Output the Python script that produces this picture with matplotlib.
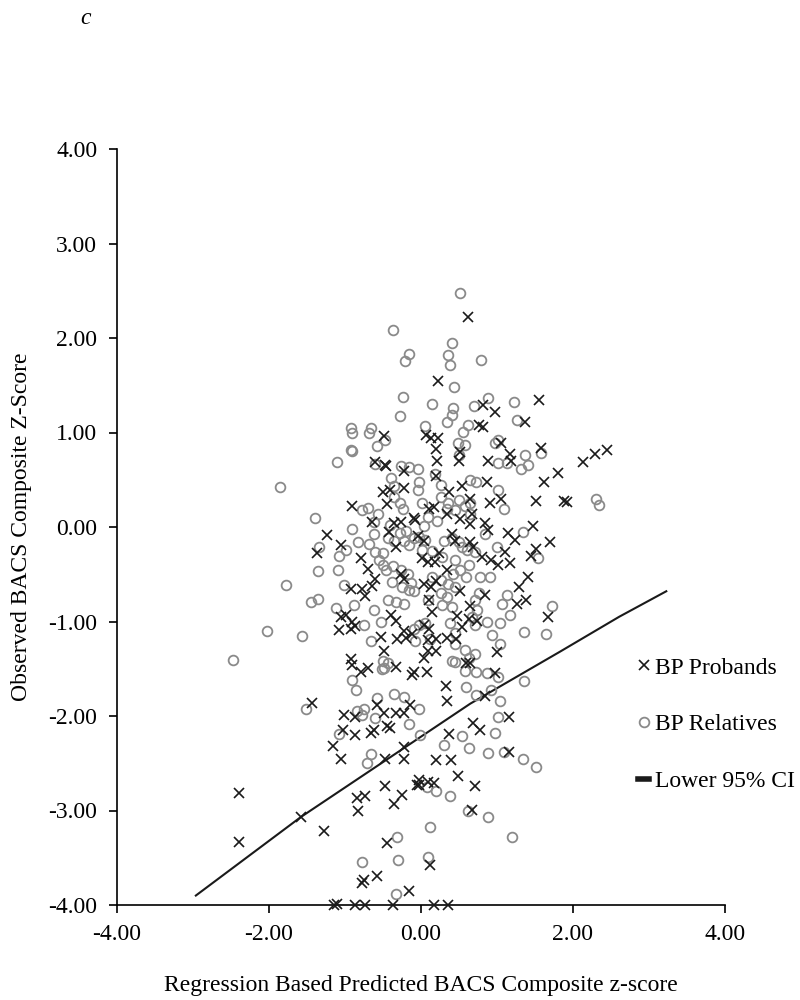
import numpy as np
import matplotlib
matplotlib.use("Agg")
import matplotlib.pyplot as plt
from matplotlib.lines import Line2D

plt.rcParams['font.family'] = ['Liberation Serif', 'DejaVu Serif']
plt.rcParams['axes.unicode_minus'] = False

# BP probands (predicted z, observed z)
probands = np.array([
    (0.62, 2.22), (0.23, 1.54), (1.55, 1.34), (0.82, 1.29), (0.98, 1.22), (0.76, 1.08), (0.82, 1.06), (1.37, 1.11),
    (1.05, 0.89), (0.89, 0.70), (1.17, 0.77), (1.19, 0.70), (1.58, 0.84), (2.13, 0.69), (2.29, 0.77), (2.45, 0.81),
    (1.81, 0.57), (1.62, 0.48), (0.87, 0.48), (1.51, 0.27), (1.88, 0.28), (1.92, 0.26), (1.06, 0.30), (0.91, 0.25),
    (1.48, 0.01), (1.15, -0.06), (1.24, -0.14), (1.70, -0.16), (1.52, -0.23), (1.45, -0.31), (1.11, -0.26),
    (1.17, -0.38), (1.41, -0.53), (1.29, -0.64), (1.39, -0.77), (1.26, -0.81), (1.68, -0.95), (0.93, -0.35),
    (1.02, -0.40), (0.89, -0.03), (1.00, -1.32), (0.98, -1.55),
    (0.07, 0.97), (0.13, 0.94), (0.22, 0.94), (0.20, 0.83), (0.21, 0.70), (0.50, 0.70), (0.52, 0.79), (-0.46, 0.65),
    (-0.22, 0.59), (0.20, 0.54), (-0.50, 0.37), (-0.41, 0.39), (-0.22, 0.41), (0.11, 0.19), (0.17, 0.21), (-0.09, 0.10),
    (0.37, 0.37), (0.54, 0.43), (0.65, 0.30), (-0.35, 0.04), (-0.26, 0.05), (0.41, -0.07), (-0.04, -0.10), (0.04, -0.15),
    (-0.33, -0.21), (0.52, 0.08), (0.65, 0.03), (0.24, -0.28), (0.02, -0.33), (0.09, -0.37), (0.35, -0.46),
    (-0.26, -0.50), (-0.22, -0.55), (0.20, -0.57), (0.13, -0.64), (0.52, -0.68), (0.11, -0.77), (0.15, -0.90),
    (-0.39, -0.93), (-0.33, -0.99), (-0.22, -1.10), (-0.11, -1.13), (0.04, -1.04), (0.11, -1.08), (0.20, -1.19),
    (0.20, -1.31), (-0.48, -1.31), (-0.33, -1.48), (0.04, -1.39), (0.09, -1.31), (-0.09, -1.53), (-0.11, -1.57),
    (0.33, -1.68), (0.35, -1.84), (0.59, -1.44), (0.65, -1.44), (0.48, -0.94), (0.54, -1.06), (0.46, -1.19), (0.65, -0.84),
    (0.65, -0.16), (0.80, -0.32), (0.84, -0.72), (0.45, -0.15), (0.84, 0.04), (0.67, 0.14), (0.34, 0.14), (0.19, -0.37),
    (0.04, -0.60), (0.63, -0.97), (0.74, -0.99), (0.34, -1.17), (0.10, -1.20), (0.08, -1.53), (0.84, -1.79), (0.69, -0.21),
    (-0.48, 0.96), (-0.60, 0.69), (-0.47, 0.66),
    (-0.90, 0.22), (-1.23, -0.08), (-1.05, -0.19), (-1.36, -0.28), (-0.79, -0.33), (-0.64, 0.05), (-0.70, -0.44),
    (-0.60, -0.55), (-0.64, -0.62), (-0.92, -0.66), (-0.78, -0.66), (-0.73, -0.73), (-1.05, -0.95), (-0.99, -0.93),
    (-0.90, -1.00), (-0.86, -1.05), (-1.07, -1.09), (-0.92, -1.08), (-0.53, -1.16), (-0.92, -1.40), (-0.90, -1.46),
    (-0.79, -1.53), (-0.70, -1.49), (-1.43, -1.86), (-0.44, 0.24), (-0.42, -0.05), (-0.07, 0.07), (-0.31, -1.19),
    (-0.20, -1.17),
    (-2.39, -2.82), (-2.39, -3.33), (-1.58, -3.07), (-1.27, -3.22), (-1.15, -2.32), (-1.05, -2.46), (-1.01, -1.99),
    (-1.02, -2.15), (-0.87, -2.01), (-0.87, -2.20), (-0.66, -2.18), (-0.61, -2.15), (-0.57, -1.88), (-0.49, -1.97),
    (-0.44, -2.11), (-0.41, -2.13), (-0.47, -2.45), (-0.32, -1.97), (-0.22, -1.97), (-0.22, -2.33), (-0.22, -2.46),
    (-0.14, -1.88), (-0.47, -2.74), (-0.05, -2.73), (-0.84, -2.87), (-0.73, -2.85), (-0.83, -3.00), (-0.35, -2.93),
    (-0.25, -2.84), (-0.44, -3.34), (-0.75, -3.74), (-0.77, -3.77), (-0.58, -3.69), (-0.15, -3.85), (-1.14, -4.0),
    (-1.10, -3.99), (-0.86, -4.0), (-0.74, -4.0), (-0.36, -4.0),
    (1.16, -2.01), (0.69, -2.07), (0.78, -2.15), (0.37, -2.19), (0.20, -2.47), (0.40, -2.47), (0.49, -2.63),
    (0.71, -2.74), (1.16, -2.38), (-0.03, -2.68), (0.10, -2.70), (0.17, -2.71), (-0.03, -2.73), (0.67, -2.99),
    (0.12, -3.58), (0.17, -4.0), (0.36, -4.0),
])

# BP relatives (predicted z, observed z)
relatives = np.array([
    (-0.36, 2.08), (-0.16, 1.83), (-0.21, 1.76), (-0.23, 1.38), (-0.28, 1.17), (-0.92, 1.05), (-0.90, 1.00),
    (-0.66, 1.05), (-0.68, 1.00), (-0.57, 0.86), (-0.47, 0.92), (-0.92, 0.81), (-0.91, 0.80), (-1.10, 0.69),
    (-1.85, 0.42), (-0.60, 0.67),
    (0.52, 2.48), (0.41, 1.95), (0.36, 1.82), (0.39, 1.71), (0.79, 1.77), (0.44, 1.48), (0.15, 1.30), (0.42, 1.26),
    (0.41, 1.19), (0.34, 1.11), (0.89, 1.36), (0.70, 1.28), (1.23, 1.32), (1.27, 1.13), (0.06, 1.07), (0.56, 1.01),
    (0.62, 1.08), (0.98, 0.89), (1.01, 0.92), (0.49, 0.89), (0.58, 0.87), (0.50, 0.76), (1.02, 0.68), (1.13, 0.68),
    (1.37, 0.76), (1.41, 0.66), (1.32, 0.61), (1.58, 0.78), (0.19, 0.56), (-0.02, 0.48), (0.65, 0.50), (0.73, 0.48),
    (0.26, 0.44), (1.02, 0.39),
    (2.31, 0.30), (2.35, 0.23), (1.10, 0.19), (1.35, -0.05), (1.00, -0.21), (1.54, -0.33), (0.60, -0.53),
    (0.78, -0.53), (0.91, -0.53), (1.72, -0.84), (1.65, -1.13), (1.36, -1.11), (1.17, -0.93), (1.14, -0.72),
    (1.07, -0.81), (1.04, -1.02), (0.94, -1.14), (1.04, -1.24), (0.71, -0.77), (0.76, -0.70), (0.74, -0.88),
    (0.71, -1.04), (0.87, -1.00), (0.45, -1.43), (0.58, -1.52), (0.87, -1.55), (0.59, -1.69), (1.36, -1.63),
    (0.73, -1.78), (0.92, -1.72), (1.04, -1.84), (0.45, -1.24), (0.58, -1.30), (0.71, -1.34),
    (0.01, 0.25), (0.10, 0.11), (0.21, 0.06), (0.26, 0.32), (0.36, 0.25), (0.45, 0.18), (0.50, 0.29), (0.58, 0.22),
    (0.65, 0.14), (0.50, -0.16), (0.54, -0.21), (0.71, -0.26), (0.45, -0.35), (0.63, -0.40), (0.84, -0.07),
    (0.06, -0.14), (-0.03, -0.11), (0.15, -0.25), (0.28, -0.32), (0.26, -0.56), (0.36, -0.60), (0.15, -0.53),
    (0.34, -0.74), (0.28, -0.83), (0.41, -0.85), (0.45, -0.63), (0.10, -0.77), (0.06, -1.02), (0.39, -1.02),
    (0.12, -1.19), (0.45, -1.12), (0.63, -1.39),
    (-0.26, 0.65), (-0.15, 0.63), (-0.04, 0.61), (-0.39, 0.52), (-0.35, 0.43), (-0.35, 0.32), (-0.28, 0.25),
    (-0.24, 0.19), (-0.04, 0.39), (-0.20, -0.04), (-0.09, -0.12), (-0.43, -0.12), (-0.35, -0.15), (-0.50, -0.28),
    (-0.46, -0.46), (-0.22, -0.15), (-0.15, -0.19), (-0.37, -0.41), (-0.26, -0.46), (-0.17, -0.50), (-0.13, -0.59),
    (-0.09, -0.68), (-0.43, -0.77), (-0.33, -0.79), (-0.22, -0.81), (-0.09, -1.08), (-0.02, -1.04), (-0.50, -1.42),
    (-0.43, -1.44), (-0.35, -1.77), (-0.22, -1.80), (-0.02, -1.93),
    (0.35, 0.19), (0.65, 0.25), (0.04, 0.01), (0.02, -0.24), (0.30, -0.15), (0.41, -0.12), (0.61, -0.24),
    (0.43, -0.50), (0.52, -0.46), (0.26, -0.70), (0.67, -0.95), (0.41, -1.42), (0.72, -1.53), (1.02, -1.59),
    (-1.39, 0.10), (-1.34, -0.21), (-1.35, -0.47), (-1.09, -0.46), (-1.77, -0.61), (-1.45, -0.79), (-1.35, -0.76),
    (-2.03, -1.10), (-1.56, -1.15), (-2.47, -1.41), (-0.90, -0.02), (-0.77, 0.18), (-0.70, 0.20), (-0.56, 0.14),
    (-1.08, -0.31), (-0.99, -0.24), (-0.82, -0.16), (-0.68, -0.18), (-0.62, 0.05), (-0.61, -0.07), (-0.60, -0.26),
    (-0.55, -0.35), (-0.50, -0.40), (-1.01, -0.61), (-1.12, -0.86), (-0.88, -0.83), (-0.75, -1.04), (-0.61, -0.88),
    (-0.53, -1.00), (-0.66, -1.21), (-0.51, -1.50), (-0.48, -1.49), (-0.90, -1.62), (-0.85, -1.72), (-0.57, -1.81),
    (-0.16, -0.67), (-0.07, -1.21), (-0.38, -0.58), (-0.25, -0.64), (-0.27, -0.06), (-0.40, 0.02),
    (-1.51, -1.93), (-0.84, -1.95), (-0.75, -1.93), (-0.77, -1.99), (-0.60, -2.02), (-0.16, -2.08), (-1.08, -2.19),
    (-0.66, -2.40), (-0.71, -2.50), (-0.31, -3.28), (-0.30, -3.52), (-0.78, -3.55), (-0.33, -3.88),
    (-0.01, -2.20), (1.01, -2.01), (0.97, -2.18), (0.54, -2.21), (0.31, -2.31), (0.64, -2.34), (0.88, -2.39),
    (1.10, -2.38), (1.34, -2.46), (1.51, -2.54), (0.20, -2.79), (0.08, -2.75), (0.39, -2.85), (0.62, -3.00),
    (0.89, -3.07), (0.12, -3.17), (1.20, -3.28), (0.09, -3.49),
])

# lower 95% CI curve
ci_x = [-2.96, -1.58, 0.00, 0.65, 1.83, 2.61, 3.23]
ci_y = [-3.90, -3.07, -2.22, -1.87, -1.32, -0.95, -0.68]

ticks = [-4, -3, -2, -1, 0, 1, 2, 3, 4]
fs = 17

fig = plt.figure(figsize=(8, 10), dpi=100)
ax = fig.add_axes([0.146, 0.095, 0.760, 0.756])

ax.plot(relatives[:, 0], relatives[:, 1], 'o', ms=7, mfc='none', mec='#8a8a8a',
        mew=1.3, clip_on=False, zorder=3)
ax.plot(probands[:, 0], probands[:, 1], 'x', ms=7, color='#1a1a1a',
        mew=1.2, clip_on=False, zorder=4)
ax.plot(ci_x, ci_y, '-', color='#1a1a1a', lw=1.5, zorder=2)

ax.set_xlim(-4, 4)
ax.set_ylim(-4, 4)
ax.set_xticks([-4, -2, 0, 2, 4])
ax.set_yticks(ticks)
ax.xaxis.set_major_formatter(plt.FormatStrFormatter('%.2f'))
ax.yaxis.set_major_formatter(plt.FormatStrFormatter('%.2f'))
ax.tick_params(direction='out', length=6, width=1.2, labelsize=fs, pad=8)
for s in ['top', 'right']:
    ax.spines[s].set_visible(False)
for s in ['left', 'bottom']:
    ax.spines[s].set_linewidth(1.2)

ax.set_xlabel('Regression Based Predicted BACS Composite z-score', fontsize=fs, labelpad=21)
ax.set_ylabel('Observed BACS Composite Z-Score', fontsize=fs, labelpad=12)

handles = [
    Line2D([], [], ls='none', marker='x', ms=7, color='#1a1a1a', mew=1.2),
    Line2D([], [], ls='none', marker='o', ms=7, mfc='none', mec='#8a8a8a', mew=1.3),
    Line2D([], [], color='#1a1a1a', lw=4),
]
fig.legend(handles, ['BP Probands', 'BP Relatives', 'Lower 95% CI'],
           loc='upper left', bbox_to_anchor=(0.797, 0.343), frameon=False,
           fontsize=fs, handlelength=0.5, handletextpad=0.25, labelspacing=1.5,
           borderpad=0, borderaxespad=0)

fig.text(0.1, 0.982, 'c', fontsize=fs, style='italic', va='center')

fig.savefig('out.png', dpi=100)
